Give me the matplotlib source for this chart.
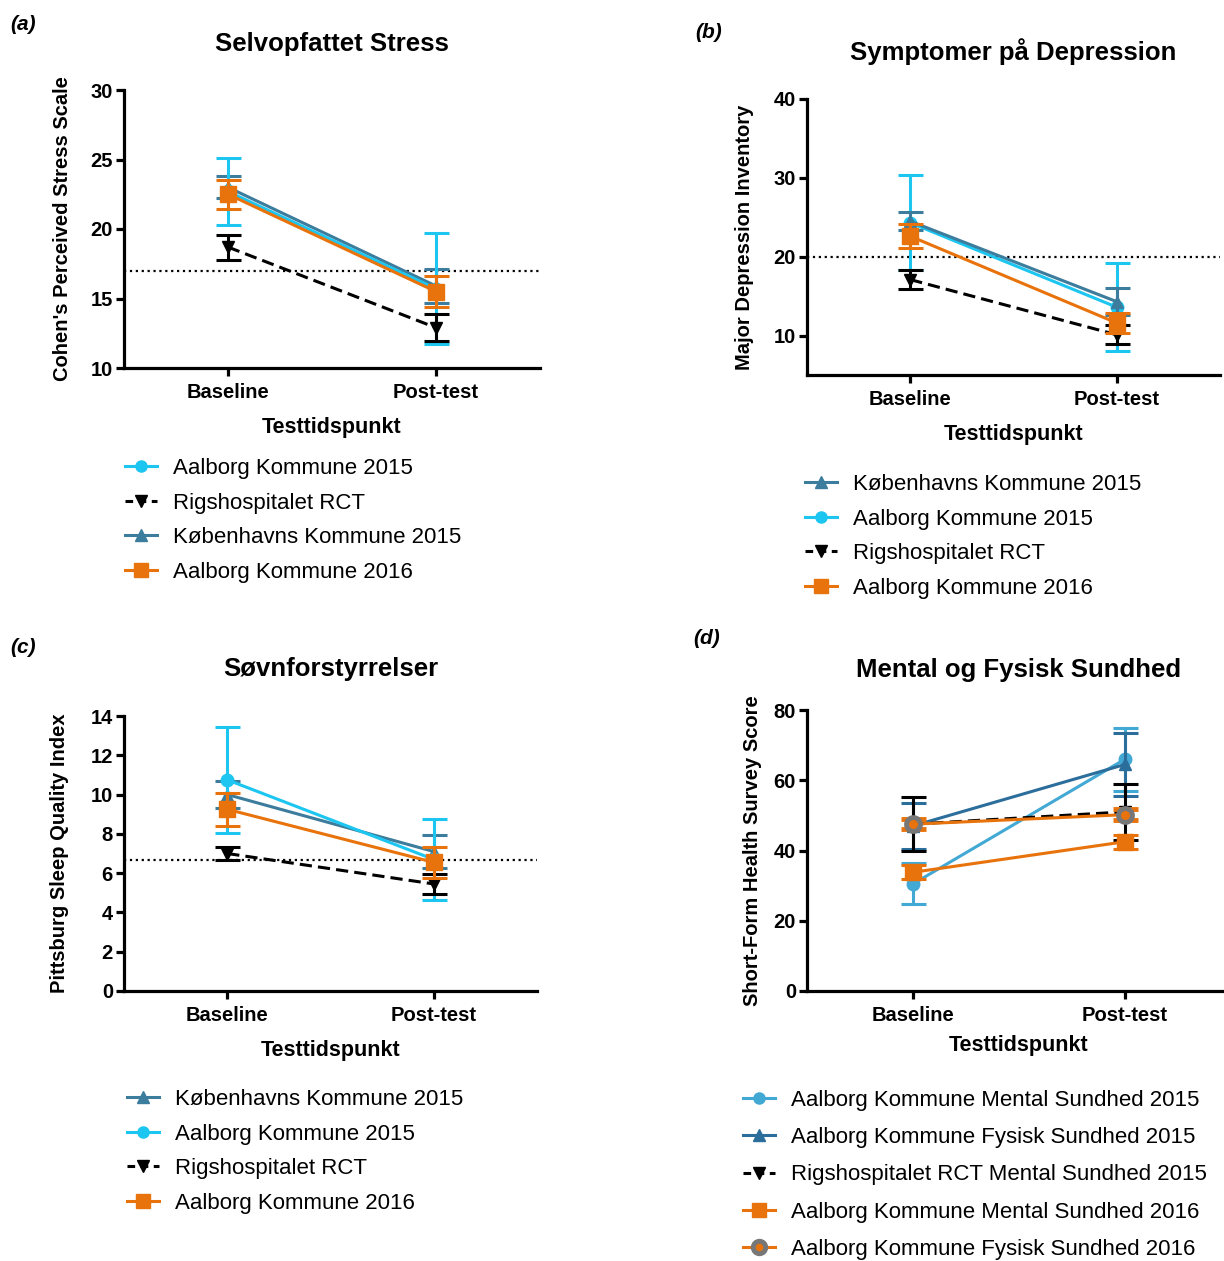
import matplotlib
matplotlib.use("Agg")
import matplotlib.pyplot as plt
from matplotlib.lines import Line2D

plt.rcParams['font.family'] = ['Liberation Sans', 'DejaVu Sans']

W, H = 1224, 1261

timepoints = ["Baseline", "Post-test"]

# (a) Selvopfattet Stress - means and half error bars
a_aal15 = [22.7, 15.7]
a_aal15_err = [2.4, 4.0]
a_rigs = [18.7, 12.9]
a_rigs_err = [0.9, 0.95]
a_kbh15 = [23.0, 15.9]
a_kbh15_err = [0.8, 1.2]
a_aal16 = [22.5, 15.5]
a_aal16_err = [1.05, 1.1]
a_cutoff = 17.0

# (b) Symptomer på Depression
b_kbh15 = [24.5, 14.3]
b_kbh15_err = [1.15, 1.7]
b_aal15 = [24.3, 13.6]
b_aal15_err = [6.0, 5.55]
b_rigs = [17.1, 10.1]
b_rigs_err = [1.25, 1.2]
b_aal16 = [22.6, 11.6]
b_aal16_err = [1.55, 1.3]
b_cutoff = 20.0

# (c) Søvnforstyrrelser
c_kbh15 = [10.0, 7.1]
c_kbh15_err = [0.7, 0.84]
c_aal15 = [10.75, 6.7]
c_aal15_err = [2.7, 2.05]
c_rigs = [7.0, 5.45]
c_rigs_err = [0.35, 0.53]
c_aal16 = [9.25, 6.55]
c_aal16_err = [0.85, 0.8]
c_cutoff = 6.67

# (d) Mental og Fysisk Sundhed
d_aal15_mental = [30.5, 66.0]
d_aal15_mental_err = [5.8, 9.0]
d_aal15_fysisk = [47.0, 64.5]
d_aal15_fysisk_err = [6.5, 9.0]
d_rigs_mental = [47.5, 51.0]
d_rigs_mental_err = [7.7, 7.9]
d_aal16_mental = [33.8, 42.5]
d_aal16_mental_err = [2.0, 2.0]
d_aal16_fysisk = [47.5, 50.2]
d_aal16_fysisk_err = [1.5, 1.5]

CYAN = '#1CC6F0'
STEEL = '#3C7C9C'
ORANGE = '#E8730C'
LBLUE = '#42A8D4'
DBLUE = '#2C6E9B'
GRAY = '#777777'

fig = plt.figure(figsize=(W / 100, H / 100), dpi=100)


def add_ax(l, t, r, b):
    return fig.add_axes([l / W, 1 - b / H, (r - l) / W, (b - t) / H])


def style(ax, ylim, yticks, ylabel, title, tpad, ylab_x, xlab_y):
    ax.set_xlim(-0.5, 1.5)
    ax.set_ylim(*ylim)
    ax.set_yticks(yticks)
    ax.set_xticks([0, 1])
    ax.set_xticklabels(timepoints)
    for s in ['top', 'right']:
        ax.spines[s].set_visible(False)
    for s in ['left', 'bottom']:
        ax.spines[s].set_linewidth(2.3)
    ax.tick_params(width=2.3, length=6, labelsize=14.5)
    ax.tick_params(axis='x', pad=5)
    ax.tick_params(axis='y', pad=2)
    for lab in ax.get_xticklabels() + ax.get_yticklabels():
        lab.set_fontweight('bold')
    ax.set_ylabel(ylabel, fontsize=14.5, fontweight='bold')
    ax.yaxis.set_label_coords(ylab_x, 0.5)
    ax.set_xlabel("Testtidspunkt", fontsize=15.5, fontweight='bold')
    ax.xaxis.set_label_coords(0.5, xlab_y)
    ax.set_title(title, fontsize=18.5, fontweight='bold', pad=tpad)


def series(ax, y, err, color, marker, ms, ls='-', z=2, mfc=None, mec=None, mew=None):
    x = range(len(y))
    kw = dict(color=color, ls=ls, lw=2.2, marker=marker, ms=ms,
              mfc=mfc or color, mec=mec or color, capsize=9, capthick=2.2,
              elinewidth=2.2, zorder=z)
    if mew is not None:
        kw['mew'] = mew
    lines = ax.errorbar(x, y, yerr=err, **kw)
    if ls == '--':
        lines[0].set_dashes((4, 2))


def handle(color, marker, ms, ls='-', mfc=None, mec=None, mew=1):
    h = Line2D([], [], color=color, ls=ls, lw=2.2, marker=marker, ms=ms,
               mfc=mfc or color, mec=mec or color, mew=mew)
    if ls == '--':
        h.set_dashes((2.5, 1.8))
    return h


def legend(ax, handles, labels, x, y, spacing=0.61):
    ax.legend(handles, labels, loc='upper left', bbox_to_anchor=(x / W, 1 - y / H),
              bbox_transform=fig.transFigure, frameon=False, fontsize=16,
              borderpad=0, borderaxespad=0, handlelength=1.45, handletextpad=0.7,
              labelspacing=spacing)


h_cyan = handle(CYAN, 'o', 8)
h_rigs = handle('black', 'v', 8, ls='--')
h_kbh = handle(STEEL, '^', 8)
h_aal16 = handle(ORANGE, 's', 10)

# (a)
ax = add_ax(124, 90, 540, 368)
ax.axhline(a_cutoff, color='black', ls=':', lw=1.6, zorder=1)
series(ax, a_kbh15, a_kbh15_err, STEEL, '^', 9, z=2)
series(ax, a_aal15, a_aal15_err, CYAN, 'o', 9, z=3)
series(ax, a_rigs, a_rigs_err, 'black', 'v', 9, ls='--', z=4)
series(ax, a_aal16, a_aal16_err, ORANGE, 's', 11, z=5)
style(ax, (10, 30), [10, 15, 20, 25, 30], "Cohen's Perceived Stress Scale",
      "Selvopfattet Stress", 28, -0.126, -0.176)
legend(ax, [h_cyan, h_rigs, h_kbh, h_aal16],
       ["Aalborg Kommune 2015", "Rigshospitalet RCT", "Københavns Kommune 2015",
        "Aalborg Kommune 2016"], 125, 458)
fig.text(10 / W, 1 - 24 / H, "(a)", fontsize=15, fontweight='bold', style='italic', va='center')

# (b)
ax = add_ax(807, 99, 1220, 375)
ax.axhline(b_cutoff, color='black', ls=':', lw=1.6, zorder=1)
series(ax, b_aal15, b_aal15_err, CYAN, 'o', 9, z=2)
series(ax, b_kbh15, b_kbh15_err, STEEL, '^', 9, z=3)
series(ax, b_rigs, b_rigs_err, 'black', 'v', 9, ls='--', z=4)
series(ax, b_aal16, b_aal16_err, ORANGE, 's', 11, z=5)
style(ax, (5, 40), [10, 20, 30, 40], "Major Depression Inventory",
      "Symptomer på Depression", 28, -0.128, -0.178)
legend(ax, [h_kbh, h_cyan, h_rigs, h_aal16],
       ["Københavns Kommune 2015", "Aalborg Kommune 2015", "Rigshospitalet RCT",
        "Aalborg Kommune 2016"], 805, 474)
fig.text(695 / W, 1 - 32 / H, "(b)", fontsize=15, fontweight='bold', style='italic', va='center')

# (c)
ax = add_ax(124, 716, 537, 991)
ax.axhline(c_cutoff, color='black', ls=':', lw=1.6, zorder=1)
series(ax, c_kbh15, c_kbh15_err, STEEL, '^', 9, z=2)
series(ax, c_aal15, c_aal15_err, CYAN, 'o', 9, z=3)
series(ax, c_rigs, c_rigs_err, 'black', 'v', 9, ls='--', z=4)
series(ax, c_aal16, c_aal16_err, ORANGE, 's', 11, z=5)
style(ax, (0, 14), list(range(0, 15, 2)), "Pittsburg Sleep Quality Index",
      "Søvnforstyrrelser", 29, -0.133, -0.178)
legend(ax, [h_kbh, h_cyan, h_rigs, h_aal16],
       ["Københavns Kommune 2015", "Aalborg Kommune 2015", "Rigshospitalet RCT",
        "Aalborg Kommune 2016"], 127, 1089)
fig.text(10 / W, 1 - 648 / H, "(c)", fontsize=15, fontweight='bold', style='italic', va='center')

# (d)
ax = add_ax(807, 710, 1231, 991)
series(ax, d_aal15_mental, d_aal15_mental_err, LBLUE, 'o', 9, z=2)
series(ax, d_aal15_fysisk, d_aal15_fysisk_err, DBLUE, '^', 9, z=3)
series(ax, d_rigs_mental, d_rigs_mental_err, 'black', 'v', 9, ls='--', z=4)
series(ax, d_aal16_mental, d_aal16_mental_err, ORANGE, 's', 11, z=5)
series(ax, d_aal16_fysisk, d_aal16_fysisk_err, ORANGE, 'o', 10, z=6,
       mfc=ORANGE, mec=GRAY, mew=3.5)
style(ax, (0, 80), [0, 20, 40, 60, 80], "Short-Form Health Survey Score",
      "Mental og Fysisk Sundhed", 24, -0.106, -0.157)
legend(ax, [handle(LBLUE, 'o', 8), handle(DBLUE, '^', 8), h_rigs, h_aal16,
            handle(ORANGE, 'o', 9, mfc=ORANGE, mec=GRAY, mew=3.5)],
       ["Aalborg Kommune Mental Sundhed 2015", "Aalborg Kommune Fysisk Sundhed 2015",
        "Rigshospitalet RCT Mental Sundhed 2015", "Aalborg Kommune Mental Sundhed 2016",
        "Aalborg Kommune Fysisk Sundhed 2016"], 743, 1090, spacing=0.73)
fig.text(693 / W, 1 - 639 / H, "(d)", fontsize=15, fontweight='bold', style='italic', va='center')

fig.savefig("out.png", dpi=100)
